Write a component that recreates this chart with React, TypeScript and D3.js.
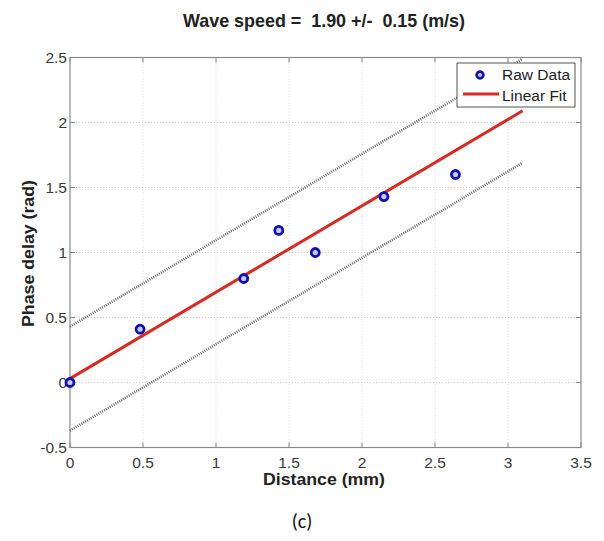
import React from "react";
import * as d3 from "d3";

const rawX = [0, 0.48, 1.19, 1.43, 1.68, 2.15, 2.64];
const rawY = [0, 0.41, 0.8, 1.17, 1.0, 1.43, 1.6];
const fitX = [0, 3.1];
const fitY = [0.03, 2.09];
const upperY = [0.43, 2.49];
const lowerY = [-0.37, 1.69];
const xTicks = [0, 0.5, 1, 1.5, 2, 2.5, 3, 3.5];
const yTicks = [-0.5, 0, 0.5, 1, 1.5, 2, 2.5];
const titleText = "Wave speed =  1.90 +/-  0.15 (m/s)";
const legendLabels = ["Raw Data", "Linear Fit"];

const W = 604, H = 541;
const L = 70, R = 581, T = 57.5, B = 447.5;

export default function App() {
  const x = d3.scaleLinear().domain([0, 3.5]).range([L, R]);
  const y = d3.scaleLinear().domain([-0.5, 2.5]).range([B, T]);
  const line = d3.line<[number, number]>().x(d => x(d[0])).y(d => y(d[1]));
  const fitPts = fitX.map((v, i) => [v, fitY[i]] as [number, number]);
  const upPts = fitX.map((v, i) => [v, upperY[i]] as [number, number]);
  const loPts = fitX.map((v, i) => [v, lowerY[i]] as [number, number]);
  const font = "Arial, 'Liberation Sans', sans-serif";
  const lx = 457, ly = 63;
  return (
    <svg width={W} height={H} style={{ position: "absolute", left: 0, top: 0, background: "#fff" }} fontFamily={font}>
      <rect x={0} y={0} width={W} height={H} fill="#fff" />
      {/* grid */}
      {xTicks.slice(1, -1).map(t => (
        <line key={"gx" + t} x1={x(t)} x2={x(t)} y1={T} y2={B} stroke="#d0d0d0" strokeWidth={1} strokeDasharray="1,2" />
      ))}
      {yTicks.slice(1, -1).map(t => (
        <line key={"gy" + t} x1={L} x2={R} y1={y(t)} y2={y(t)} stroke="#d0d0d0" strokeWidth={1} strokeDasharray="1,2" />
      ))}
      {/* frame */}
      <rect x={L} y={T} width={R - L} height={B - T} fill="none" stroke="#8a8a8a" strokeWidth={1.2} />
      {/* ticks */}
      {xTicks.map(t => (
        <g key={"tx" + t}>
          <line x1={x(t)} x2={x(t)} y1={B} y2={B - 5} stroke="#8a8a8a" />
          <line x1={x(t)} x2={x(t)} y1={T} y2={T + 5} stroke="#8a8a8a" />
          <text x={x(t)} y={B + 20} textAnchor="middle" fontSize={15.5} fill="#3a3a3a">{String(t)}</text>
        </g>
      ))}
      {yTicks.map(t => (
        <g key={"ty" + t}>
          <line x1={L} x2={L + 5} y1={y(t)} y2={y(t)} stroke="#8a8a8a" />
          <line x1={R} x2={R - 5} y1={y(t)} y2={y(t)} stroke="#8a8a8a" />
          <text x={L - 3} y={y(t) + 5} textAnchor="end" fontSize={15.5} fill="#3a3a3a">{String(t)}</text>
        </g>
      ))}
      {/* confidence lines */}
      <path d={line(upPts) || ""} fill="none" stroke="#6a6a6a" strokeWidth={2.6} strokeDasharray="1,1.2" />
      <path d={line(loPts) || ""} fill="none" stroke="#6a6a6a" strokeWidth={2.6} strokeDasharray="1,1.2" />
      {/* fit */}
      <path d={line(fitPts) || ""} fill="none" stroke="#d62a22" strokeWidth={3} />
      {/* data */}
      {rawX.map((v, i) => (
        <circle key={"p" + i} cx={x(v)} cy={y(rawY[i])} r={4} fill="#c8c8f0" stroke="#1010b0" strokeWidth={2.8} />
      ))}
      {/* legend */}
      <rect x={lx} y={ly} width={118} height={44} fill="#fff" stroke="#555" strokeWidth={1} />
      <circle cx={lx + 23} cy={ly + 12} r={3.4} fill="#c8c8f0" stroke="#1010b0" strokeWidth={2.6} />
      <text x={lx + 45} y={ly + 17} fontSize={15.5} fill="#222">{legendLabels[0]}</text>
      <line x1={lx + 6} x2={lx + 42} y1={ly + 31} y2={ly + 31} stroke="#d62a22" strokeWidth={3} />
      <text x={lx + 45} y={ly + 38} fontSize={15.5} fill="#222">{legendLabels[1]}</text>
      {/* titles */}
      <text x={324} y={27} textAnchor="middle" fontSize={19} fontWeight="bold" fill="#222" style={{ whiteSpace: "pre" }} textLength={282} lengthAdjust="spacingAndGlyphs">{titleText}</text>
      <text x={324} y={485} textAnchor="middle" fontSize={16.5} fontWeight="bold" fill="#222" textLength={122} lengthAdjust="spacingAndGlyphs">Distance (mm)</text>
      <text transform={`translate(34,${(180 + 327) / 2}) rotate(-90)`} textAnchor="middle" fontSize={16.5} fontWeight="bold" fill="#222" textLength={147} lengthAdjust="spacingAndGlyphs">Phase delay (rad)</text>
      <text x={302} y={528} textAnchor="middle" fontSize={20} fill="#111" fontFamily="Calibri, Carlito, 'Open Sans', sans-serif">(c)</text>
    </svg>
  );
}
